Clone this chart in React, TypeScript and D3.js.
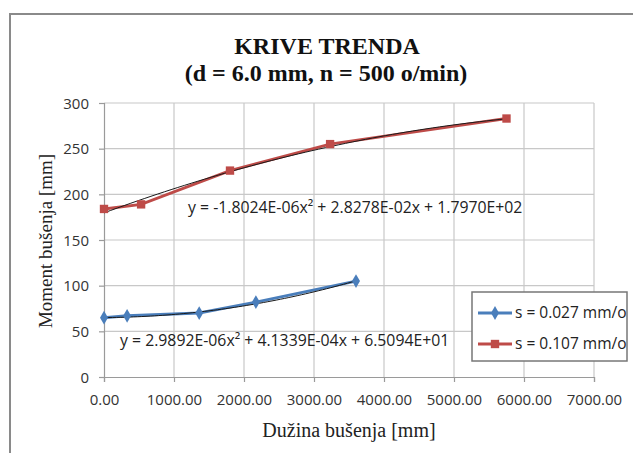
import React, { useEffect, useRef } from 'react';
import * as d3 from 'd3';

// duzina busenja [mm] / moment busenja
const blueX = [0, 330, 1360, 2170, 3600];
const blueY = [65, 67, 70, 82, 105];
const redX = [0, 530, 1800, 3230, 5750];
const redY = [184, 189, 226, 255, 283];

// polinomski trend (a, b, c) kako pise na grafikonu
const blueTrend = [2.9892e-6, 4.1339e-4, 6.5094e1];
const redTrend = [-1.8024e-6, 2.8278e-2, 1.797e2];

const seriesNames = ['s = 0.027 mm/o', 's = 0.107 mm/o'];
const xTicks = [0, 1000, 2000, 3000, 4000, 5000, 6000, 7000];
const yTicks = [0, 50, 100, 150, 200, 250, 300];

const BLUE = '#4a7ebb';
const RED = '#be4b48';
const sans = '"Open Sans", sans-serif';
const serif = '"Liberation Serif", "Times New Roman", serif';

const App: React.FC = () => {
    const ref = useRef<SVGSVGElement | null>(null);

    useEffect(() => {
        if (!ref.current) return;
        const svg = d3.select(ref.current);
        svg.selectAll('*').remove();

        const width = 633;
        const height = 453;
        const margin = { top: 103, right: 39, bottom: 76, left: 104 };

        svg.attr('width', width).attr('height', height);

        // okvir grafikona
        svg.append('rect')
            .attr('x', 10).attr('y', 14)
            .attr('width', width).attr('height', height)
            .attr('fill', 'white')
            .attr('stroke', '#8a8a8a')
            .attr('stroke-width', 2);

        const x = d3.scaleLinear().domain([0, 7000]).range([margin.left, width - margin.right]);
        const y = d3.scaleLinear().domain([0, 300]).range([height - margin.bottom, margin.top]);

        // mreza
        svg.append('g').selectAll('line.v').data(xTicks.slice(1)).enter().append('line')
            .attr('x1', d => x(d)).attr('x2', d => x(d))
            .attr('y1', y(0)).attr('y2', y(300))
            .attr('stroke', '#c8c8c8').attr('stroke-width', 1.2);
        svg.append('g').selectAll('line.h').data(yTicks.slice(1)).enter().append('line')
            .attr('x1', x(0)).attr('x2', x(7000))
            .attr('y1', d => y(d)).attr('y2', d => y(d))
            .attr('stroke', '#c8c8c8').attr('stroke-width', 1.2);

        const xAxis = svg.append('g')
            .attr('transform', `translate(0,${y(0)})`)
            .call(d3.axisBottom(x).tickValues(xTicks).tickSize(5).tickPadding(12).tickFormat(d => (d as number).toFixed(2)));
        const yAxis = svg.append('g')
            .attr('transform', `translate(${x(0)},0)`)
            .call(d3.axisLeft(y).tickValues(yTicks).tickSize(5).tickPadding(10));
        [xAxis, yAxis].forEach(ax => {
            ax.select('.domain').attr('stroke', '#9a9a9a').attr('stroke-width', 1.2);
            ax.selectAll('.tick line').attr('stroke', '#9a9a9a').attr('stroke-width', 1.2);
            ax.selectAll('.tick text')
                .attr('font-family', sans)
                .attr('font-size', 15)
                .attr('fill', '#333');
        });
        yAxis.selectAll('.tick text').attr('dy', '0.35em');

        // krive trenda
        const trendLine = (coef: number[], maxX: number) => {
            const xs = d3.range(0, maxX + 1, maxX / 60);
            return d3.line<number>()
                .x(d => x(d))
                .y(d => y(coef[0] * d * d + coef[1] * d + coef[2]))(xs);
        };

        const series = [
            { xs: blueX, ys: blueY, color: BLUE, trend: blueTrend, shape: d3.symbolDiamond },
            { xs: redX, ys: redY, color: RED, trend: redTrend, shape: d3.symbolSquare },
        ];

        series.forEach(s => {
            const pts = s.xs.map((v, i) => [v, s.ys[i]] as [number, number]);
            svg.append('path')
                .attr('d', d3.line().x(d => x(d[0])).y(d => y(d[1]))(pts))
                .attr('fill', 'none')
                .attr('stroke', s.color)
                .attr('stroke-width', 3);
            svg.append('path')
                .attr('d', trendLine(s.trend, d3.max(s.xs) as number))
                .attr('fill', 'none')
                .attr('stroke', '#1a1a1a')
                .attr('stroke-width', 1);
            svg.append('g').selectAll('path').data(pts).enter().append('path')
                .attr('d', d3.symbol().type(s.shape).size(s.shape === d3.symbolSquare ? 70 : 55)())
                .attr('transform', d => `translate(${x(d[0])},${y(d[1])})`)
                .attr('fill', s.color);
        });

        // jednacine
        svg.append('text')
            .attr('x', 188).attr('y', 213)
            .attr('font-family', sans).attr('font-size', 15.8).attr('fill', '#222')
            .text('y = -1.8024E-06x² + 2.8278E-02x + 1.7970E+02');
        svg.append('text')
            .attr('x', 120).attr('y', 346)
            .attr('font-family', sans).attr('font-size', 15.8).attr('fill', '#222')
            .text('y = 2.9892E-06x² + 4.1339E-04x + 6.5094E+01');

        // legenda
        const lg = svg.append('g');
        lg.append('rect')
            .attr('x', 472).attr('y', 292)
            .attr('width', 155).attr('height', 69)
            .attr('fill', 'white')
            .attr('stroke', '#777').attr('stroke-width', 1.5);
        series.forEach((s, i) => {
            const cy = 313 + i * 31;
            lg.append('line')
                .attr('x1', 478).attr('x2', 512).attr('y1', cy).attr('y2', cy)
                .attr('stroke', s.color).attr('stroke-width', 3);
            lg.append('path')
                .attr('d', d3.symbol().type(s.shape).size(s.shape === d3.symbolSquare ? 70 : 55)())
                .attr('transform', `translate(495,${cy})`)
                .attr('fill', s.color);
            lg.append('text')
                .attr('x', 515).attr('y', cy).attr('dy', '0.35em')
                .attr('font-family', sans).attr('font-size', 15.5).attr('fill', '#222')
                .text(seriesNames[i]);
        });

        // naslovi
        const title = svg.append('text')
            .attr('text-anchor', 'middle')
            .attr('font-family', serif).attr('font-weight', 'bold').attr('font-size', 24)
            .attr('fill', '#111');
        title.append('tspan').attr('x', 327).attr('y', 54).text('KRIVE TRENDA');
        title.append('tspan').attr('x', 326).attr('y', 81).text('(d = 6.0 mm, n = 500 o/min)');

        svg.append('text')
            .attr('x', 349).attr('y', 437)
            .attr('text-anchor', 'middle')
            .attr('font-family', serif).attr('font-size', 20).attr('fill', '#222')
            .text('Dužina bušenja [mm]');
        svg.append('text')
            .attr('transform', 'translate(52,241) rotate(-90)')
            .attr('text-anchor', 'middle')
            .attr('font-family', serif).attr('font-size', 19).attr('fill', '#222')
            .text('Moment bušenja [mm]');
    }, []);

    return (
        <svg ref={ref} style={{ position: 'absolute', left: 0, top: 0, display: 'block' }} />
    );
};

export default App;
